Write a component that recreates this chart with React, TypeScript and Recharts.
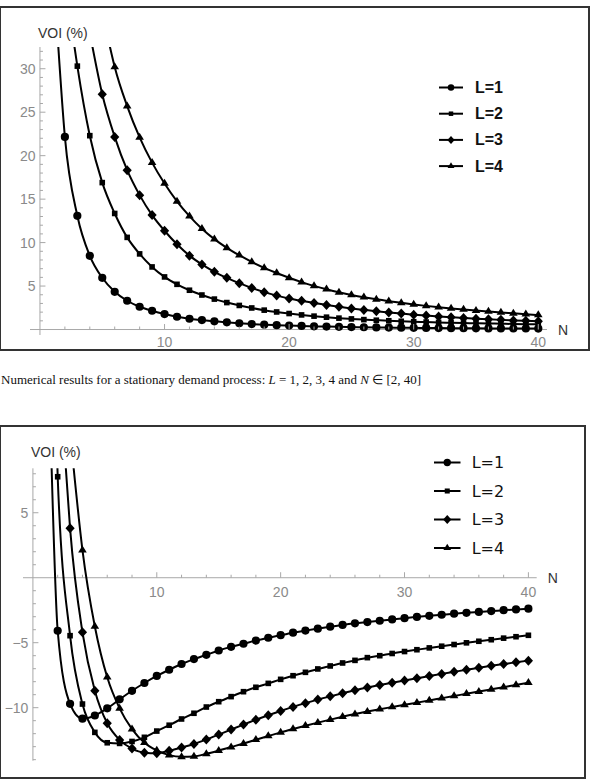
import React from "react";
import { LineChart, Line, XAxis, YAxis, ReferenceLine, Legend } from "recharts";

// ---------- data ----------
const nValues = [2, 3, 4, 5, 6, 7, 8, 9, 10, 11, 12, 13, 14, 15, 16, 17, 18, 19, 20, 21, 22, 23, 24, 25, 26, 27, 28, 29, 30, 31, 32, 33, 34, 35, 36, 37, 38, 39, 40];
const seriesNames = ["L=1", "L=2", "L=3", "L=4"];
const markerShapes = ["circle", "square", "diamond", "triangle"];

// Chart 1: stationary demand (values in %, N = 2..40, null = above plot range)
const topL1 = [22.16, 13.08, 8.48, 5.95, 4.34, 3.31, 2.62, 2.16, 1.78, 1.47, 1.24, 1.09, 0.94, 0.83, 0.72, 0.63, 0.56, 0.5, 0.45, 0.41, 0.37, 0.34, 0.31, 0.28, 0.26, 0.24, 0.22, 0.21, 0.19, 0.18, 0.17, 0.16, 0.15, 0.14, 0.13, 0.13, 0.12, 0.12, 0.11];
const topL2 = [null, 30.3, 22.3, 16.9, 13.35, 10.6, 8.7, 7.2, 6.05, 5.2, 4.52, 3.97, 3.5, 3.1, 2.77, 2.48, 2.23, 2.02, 1.84, 1.68, 1.54, 1.42, 1.31, 1.22, 1.14, 1.07, 1.01, 0.95, 0.9, 0.86, 0.82, 0.78, 0.75, 0.72, 0.69, 0.67, 0.64, 0.62, 0.6];
const topL3 = [null, null, null, 27.07, 22.16, 18.33, 15.46, 13.16, 11.36, 9.8, 8.5, 7.49, 6.64, 5.95, 5.33, 4.78, 4.3, 3.9, 3.58, 3.3, 3.04, 2.82, 2.62, 2.43, 2.26, 2.1, 1.96, 1.83, 1.71, 1.6, 1.5, 1.41, 1.33, 1.25, 1.18, 1.11, 1.05, 1.0, 0.95];
const topL4 = [null, null, null, null, 30.2, 25.7, 22.1, 19.2, 16.8, 14.75, 13.05, 11.6, 10.4, 9.4, 8.55, 7.78, 7.1, 6.5, 5.95, 5.45, 5.02, 4.63, 4.28, 3.98, 3.71, 3.47, 3.26, 3.07, 2.89, 2.72, 2.57, 2.43, 2.3, 2.18, 2.07, 1.96, 1.86, 1.76, 1.67];
// where each curve leaves the top of the plot
const topLeadN = [1.45, 2.72, 4.15, 5.54];
const topLeadV = [33, 33, 33, 33];
const topXTicks = [2, 4, 6, 8, 10, 12, 14, 16, 18, 20, 22, 24, 26, 28, 30, 32, 34, 36, 38, 40];
const topXMajor = [10, 20, 30, 40];
const topYTicks = [1, 2, 3, 4, 5, 6, 7, 8, 9, 10, 11, 12, 13, 14, 15, 16, 17, 18, 19, 20, 21, 22, 23, 24, 25, 26, 27, 28, 29, 30, 31, 32];
const topYMajor = [5, 10, 15, 20, 25, 30];

// Chart 2
const botL1 = [-4.08, -9.7, -10.85, -10.6, -10.05, -9.36, -8.7, -8.1, -7.56, -7.08, -6.64, -6.26, -5.93, -5.6, -5.32, -5.08, -4.84, -4.62, -4.42, -4.23, -4.07, -3.92, -3.77, -3.63, -3.51, -3.41, -3.31, -3.21, -3.11, -3.02, -2.93, -2.85, -2.77, -2.7, -2.63, -2.57, -2.5, -2.44, -2.38];
const botL2 = [7.77, -4.46, -9.72, -11.9, -12.7, -12.75, -12.6, -12.28, -11.8, -11.35, -10.87, -10.43, -9.95, -9.54, -9.15, -8.77, -8.43, -8.13, -7.82, -7.54, -7.28, -7.02, -6.79, -6.56, -6.36, -6.15, -6.0, -5.83, -5.68, -5.54, -5.4, -5.27, -5.14, -5.01, -4.89, -4.77, -4.65, -4.54, -4.43];
const botL3 = [null, 3.8, -4.2, -8.69, -11.2, -12.48, -13.15, -13.46, -13.5, -13.32, -13.07, -12.8, -12.45, -12.07, -11.68, -11.3, -10.93, -10.58, -10.25, -9.94, -9.65, -9.38, -9.13, -8.89, -8.66, -8.45, -8.26, -8.08, -7.91, -7.74, -7.57, -7.4, -7.24, -7.08, -6.93, -6.78, -6.64, -6.51, -6.38];
const botL4 = [null, null, 2.13, -3.75, -7.66, -10.05, -11.65, -12.69, -13.28, -13.65, -13.78, -13.75, -13.55, -13.3, -13.03, -12.76, -12.47, -12.18, -11.9, -11.64, -11.39, -11.15, -10.92, -10.7, -10.49, -10.3, -10.12, -9.95, -9.78, -9.61, -9.44, -9.27, -9.1, -8.93, -8.76, -8.59, -8.42, -8.25, -8.08];
const botLeadN = [1.5, 1.97, 2.63, 3.25];
const botLeadV = [8.8, 8.8, 8.8, 8.8];
const botXTicks = [2, 4, 6, 8, 10, 12, 14, 16, 18, 20, 22, 24, 26, 28, 30, 32, 34, 36, 38, 40];
const botXMajor = [10, 20, 30, 40];
const botYTicks = [-14, -13, -12, -11, -10, -9, -8, -7, -6, -5, -4, -3, -2, -1, 1, 2, 3, 4, 5, 6, 7, 8];
const botYMajor = [-10, -5, 5];

const caption = "Numerical results for a stationary demand process: ";

// ---------- styling ----------
const AXIS = "#a8a8a8";
const TICK_TEXT = "#8a8a8a";
const SANS = "'Liberation Sans', Arial, sans-serif";
const X_AXIS_H = 14;
const Y_AXIS_W = 20;

function buildSeries(values: (number | null)[], leadN: number, leadV: number) {
  const pts: any[] = [{ n: leadN, v: leadV, m: false }];
  nValues.forEach((n, i) => {
    const v = values[i];
    if (v !== null && v !== undefined) pts.push({ n, v, m: true });
  });
  return pts;
}

function Marker({ shape, cx, cy, s }: { shape: string; cx: number; cy: number; s: number }) {
  if (shape === "circle") return <circle cx={cx} cy={cy} r={4.1 * s} fill="#000" />;
  if (shape === "square") {
    const h = 2.8 * s;
    return <rect x={cx - h} y={cy - h} width={2 * h} height={2 * h} fill="#000" />;
  }
  if (shape === "diamond") {
    const w = 4.6 * s, h = 5 * s;
    return <polygon points={`${cx},${cy - h} ${cx + w},${cy} ${cx},${cy + h} ${cx - w},${cy}`} fill="#000" />;
  }
  const b = 4.3 * s, h = 7 * s;
  return <polygon points={`${cx},${cy - (2 * h) / 3} ${cx + b},${cy + h / 3} ${cx - b},${cy + h / 3}`} fill="#000" />;
}

type Cfg = {
  width: number;
  height: number;
  plot: { left: number; top: number; right: number; bottom: number };
  xDomain: [number, number];
  yDomain: [number, number];
  xTicks: number[];
  xMajor: number[];
  yTicks: number[];
  yMajor: number[];
  xLabelGap: number;
  series: (number | null)[][];
  leadN: number[];
  leadV: number[];
  legend: { left: number; top: number; rowGap: number; bold: boolean; font: string; lineLen: number; textX: number; ms: number };
  nLabelDx: number;
  voiDy: number;
};

function Chart({ cfg }: { cfg: Cfg }) {
  const { width, height, plot, xDomain, yDomain } = cfg;
  const margin = {
    top: plot.top,
    left: plot.left - Y_AXIS_W,
    right: width - plot.right,
    bottom: height - plot.bottom - X_AXIS_H,
  };
  const plotW = plot.right - plot.left;
  const plotH = plot.bottom - plot.top;
  const zeroY = plot.top + ((yDomain[1] - 0) / (yDomain[1] - yDomain[0])) * plotH;
  const zeroX = plot.left + ((0 - xDomain[0]) / (xDomain[1] - xDomain[0])) * plotW;

  const XTick = (props: any) => {
    const { x, payload } = props;
    const v = payload.value;
    const major = cfg.xMajor.includes(v);
    return (
      <g>
        <line x1={x} x2={x} y1={zeroY} y2={zeroY - (major ? 5.5 : 3)} stroke={AXIS} strokeWidth={1} />
        {major && (
          <text x={x} y={zeroY + cfg.xLabelGap} textAnchor="middle" dominantBaseline="central" fontSize={14} fill={TICK_TEXT} fontFamily={SANS}>
            {v}
          </text>
        )}
      </g>
    );
  };

  const YTick = (props: any) => {
    const { y, payload } = props;
    const v = payload.value;
    const major = cfg.yMajor.includes(v);
    const txt = v < 0 ? "\u2212" + Math.abs(v) : String(v);
    return (
      <g>
        <line x1={zeroX} x2={zeroX + (major ? 5.5 : 3)} y1={y} y2={y} stroke={AXIS} strokeWidth={1} />
        {major && (
          <text x={zeroX - 4.5} y={y} textAnchor="end" dominantBaseline="central" fontSize={14} fill={TICK_TEXT} fontFamily={SANS}>
            {txt}
          </text>
        )}
      </g>
    );
  };

  const makeDot = (shape: string) => (props: any) => {
    const { cx, cy, payload, index } = props;
    if (!payload || !payload.m || cx == null || cy == null) return <g key={`e-${index}`} />;
    return <Marker key={`m-${index}`} shape={shape} cx={cx} cy={cy} s={1} />;
  };

  const lg = cfg.legend;
  const LegendContent = () => (
    <svg width={130} height={lg.rowGap * 4 + 10} style={{ display: "block", overflow: "visible" }}>
      {seriesNames.map((name, i) => {
        const cy = 12.5 + i * lg.rowGap;
        return (
          <g key={name}>
            <line x1={9} x2={9 + lg.lineLen} y1={cy} y2={cy} stroke="#000" strokeWidth={2} />
            <Marker shape={markerShapes[i]} cx={9 + lg.lineLen / 2} cy={cy} s={lg.ms} />
            <text x={lg.textX} y={cy} dominantBaseline="central" fontSize={16} fontWeight={lg.bold ? "bold" : "normal"} fontFamily={lg.font} fill="#111">
              {name}
            </text>
          </g>
        );
      })}
    </svg>
  );

  return (
    <LineChart width={width} height={height} margin={margin}>
      <XAxis
        type="number"
        dataKey="n"
        domain={xDomain}
        allowDataOverflow
        ticks={cfg.xTicks}
        interval={0}
        axisLine={false}
        tickLine={false}
        tick={XTick}
        height={X_AXIS_H}
        label={(p: any) => (
          <text x={plot.right + cfg.nLabelDx} y={zeroY} textAnchor="middle" dominantBaseline="central" fontSize={14} fill="#333" fontFamily={SANS}>
            N
          </text>
        )}
      />
      <YAxis
        type="number"
        domain={yDomain}
        allowDataOverflow
        ticks={cfg.yTicks}
        interval={0}
        axisLine={false}
        tickLine={false}
        tick={YTick}
        width={Y_AXIS_W}
        label={(p: any) => (
          <text x={zeroX - 2} y={plot.top + cfg.voiDy} textAnchor="start" dominantBaseline="central" fontSize={14} fill="#333" fontFamily={SANS}>
            VOI (%)
          </text>
        )}
      />
      <ReferenceLine y={0} stroke={AXIS} strokeWidth={1} />
      <ReferenceLine x={0} stroke={AXIS} strokeWidth={1} />
      {cfg.series.map((vals, i) => (
        <Line
          key={seriesNames[i]}
          name={seriesNames[i]}
          data={buildSeries(vals, cfg.leadN[i], cfg.leadV[i])}
          dataKey="v"
          type="monotone"
          stroke="#000"
          strokeWidth={2}
          dot={makeDot(markerShapes[i])}
          activeDot={false}
          isAnimationActive={false}
        />
      ))}
      <Legend
        layout="vertical"
        align="center"
        verticalAlign="middle"
        wrapperStyle={{ left: lg.left, top: lg.top, width: 130, right: "auto", bottom: "auto" }}
        content={LegendContent}
      />
    </LineChart>
  );
}

const topCfg: Cfg = {
  width: 594,
  height: 360,
  plot: { left: 30, top: 47, right: 547, bottom: 335 },
  xDomain: [-0.8, 40.7],
  yDomain: [-0.63, 32.5],
  xTicks: topXTicks,
  xMajor: topXMajor,
  yTicks: topYTicks,
  yMajor: topYMajor,
  xLabelGap: 12,
  series: [topL1, topL2, topL3, topL4],
  leadN: topLeadN,
  leadV: topLeadV,
  legend: { left: 430, top: 74.5, rowGap: 26.2, bold: true, font: SANS, lineLen: 24, textX: 45, ms: 0.8 },
  nLabelDx: 16,
  voiDy: -14,
};

const botCfg: Cfg = {
  width: 594,
  height: 370,
  plot: { left: 23, top: 58.3, right: 536.7, bottom: 350.7 },
  xDomain: [-0.8, 40.67],
  yDomain: [-14.08, 8.42],
  xTicks: botXTicks,
  xMajor: botXMajor,
  yTicks: botYTicks,
  yMajor: botYMajor,
  xLabelGap: 14,
  series: [botL1, botL2, botL3, botL4],
  leadN: botLeadN,
  leadV: botLeadV,
  legend: { left: 425, top: 40, rowGap: 28.5, bold: false, font: "'DejaVu Sans', sans-serif", lineLen: 26.5, textX: 46.7, ms: 0.9 },
  nLabelDx: 16,
  voiDy: -16.6,
};

export default function App() {
  return (
    <div style={{ position: "absolute", left: 0, top: 0, width: 594, height: 780, background: "#fff" }}>
      <div style={{ position: "absolute", left: -1, top: 6, width: 591, height: 345, border: "2px solid #333", boxSizing: "border-box" }} />
      <div style={{ position: "absolute", left: 0, top: 0 }}>
        <Chart cfg={topCfg} />
      </div>
      <div
        style={{
          position: "absolute",
          left: 1,
          top: 371,
          fontFamily: "'Liberation Serif', 'Times New Roman', serif",
          fontSize: 13,
          color: "#111",
          whiteSpace: "nowrap",
          lineHeight: "18px",
        }}
      >
        {caption}
        <i>L</i> = 1, 2, 3, 4 and <i>N</i> ∈ [2, 40]
      </div>
      <div style={{ position: "absolute", left: -1, top: 425, width: 587, height: 354, border: "2px solid #333", boxSizing: "border-box" }} />
      <div style={{ position: "absolute", left: 0, top: 410 }}>
        <Chart cfg={botCfg} />
      </div>
    </div>
  );
}
